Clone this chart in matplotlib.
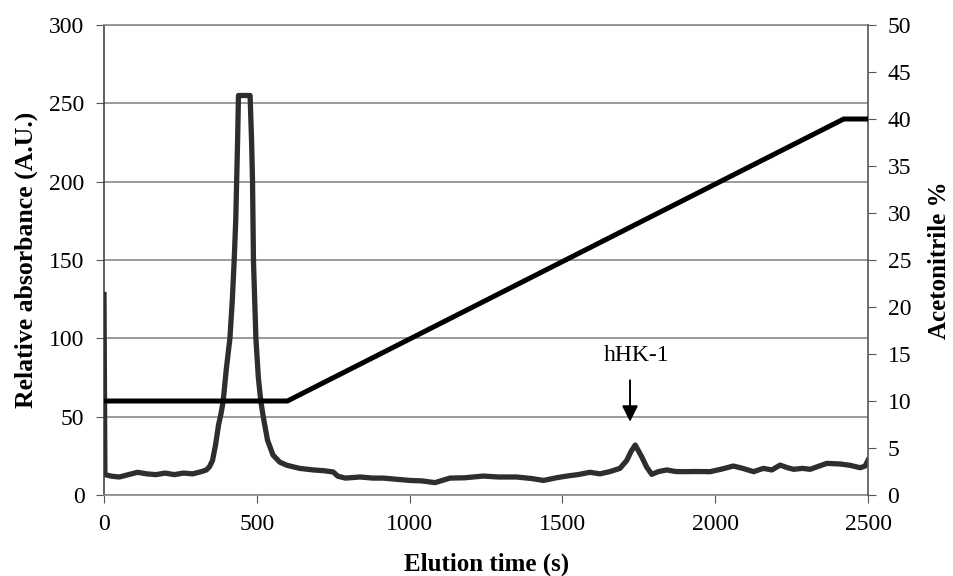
import matplotlib.pyplot as plt
import numpy as np

plt.rcParams['font.family'] = ['Liberation Serif', 'DejaVu Serif']

# absorbance trace (time in s, A.U.)
t_abs = [0, 3, 25, 50, 80, 110, 140, 170, 200, 230, 260, 290, 320, 335, 345,
         355, 365, 375, 383, 390, 400, 412, 420, 426, 431, 434, 437, 440, 478,
         483, 486, 489, 493, 497, 505, 513, 521, 535, 553, 575, 598, 640, 685,
         720, 750, 765, 790, 838, 880, 914, 960, 1001, 1040, 1083, 1110, 1132,
         1180, 1241, 1290, 1350, 1400, 1438, 1480, 1514, 1550, 1590, 1623, 1656,
         1688, 1710, 1725, 1738, 1759, 1775, 1792, 1815, 1841, 1870, 1896, 1940,
         1983, 2020, 2059, 2090, 2125, 2157, 2185, 2212, 2235, 2256, 2285, 2310,
         2340, 2365, 2408, 2440, 2474, 2490, 2500]
absorb = [128, 13, 12, 11.5, 13, 14.5, 13.5, 13, 14, 13, 14, 13.5, 15, 16, 18,
          22, 32, 45, 52, 60, 80, 100, 125, 150, 175, 200, 225, 255, 255,
          225, 200, 150, 125, 100, 75, 60, 50, 35, 25.5, 21, 19, 17, 16,
          15.5, 14.7, 12, 10.8, 11.5, 10.8, 10.8, 10, 9.3, 9, 7.9, 9.5, 10.8,
          11, 12.1, 11.5, 11.5, 10.5, 9.3, 11, 12.1, 13, 14.5, 13.5, 15,
          17, 22, 28, 31.9, 24.5, 18, 13.2, 15, 16, 15, 14.9, 15,
          14.9, 16.5, 18.5, 17, 14.9, 17, 16, 19.1, 17.5, 16.4, 17, 16.4,
          18.5, 20.2, 19.8, 19, 17.4, 18.5, 22.3]

# acetonitrile gradient (%)
t_grad = [0, 600, 2420, 2500]
acn = [10, 10, 40, 40]

left_ticks = [0, 50, 100, 150, 200, 250, 300]
right_ticks = [0, 5, 10, 15, 20, 25, 30, 35, 40, 45, 50]
x_ticks = [0, 500, 1000, 1500, 2000, 2500]

fig = plt.figure(figsize=(9.54, 5.76), dpi=100)
ax = fig.add_axes([0.109, 0.1406, 0.801, 0.816])

ax.plot(t_abs, absorb, color='#2e2e2e', lw=3.8, solid_joinstyle='round', zorder=3)
ax.set_xlim(0, 2500)
ax.set_ylim(0, 300)
ax.set_xticks(x_ticks)
ax.set_yticks(left_ticks)
ax.yaxis.grid(True, color='#8a8a8a', lw=1.2)
ax.set_axisbelow(True)
ax.tick_params(labelsize=17, direction='out', length=6, color='#555555')
ax.tick_params(axis='x', pad=8)
ax.tick_params(axis='y', pad=8)

for s in ['top', 'bottom']:
    ax.spines[s].set_color('#8a8a8a')
    ax.spines[s].set_linewidth(1.2)
ax.spines['left'].set_color('#444444')
ax.spines['left'].set_linewidth(1.2)
ax.spines['right'].set_visible(False)

ax.set_xlabel('Elution time (s)', fontsize=18, fontweight='bold', labelpad=12)
ax.set_ylabel('Relative absorbance (A.U.)', fontsize=18.5, fontweight='bold', labelpad=8)

ax2 = ax.twinx()
ax2.plot(t_grad, acn, color='black', lw=3.6, solid_joinstyle='miter', zorder=4)
ax2.set_ylim(0, 50)
ax2.set_yticks(right_ticks)
ax2.tick_params(labelsize=17, direction='out', length=6, color='#555555', pad=8)
for s in ['top', 'bottom', 'left']:
    ax2.spines[s].set_visible(False)
ax2.spines['right'].set_color('#555555')
ax2.spines['right'].set_linewidth(1.2)
ax2.set_ylabel('Acetonitrile %', fontsize=18, fontweight='bold', labelpad=12)

# peak label
ax.annotate('', xy=(1721, 45), xytext=(1721, 75),
            arrowprops=dict(arrowstyle='-|>', color='black', lw=1.4,
                            mutation_scale=24))
ax.text(1741, 89, 'hHK-1', fontsize=17, ha='center', va='center')

fig.savefig('out.png', dpi=100)
